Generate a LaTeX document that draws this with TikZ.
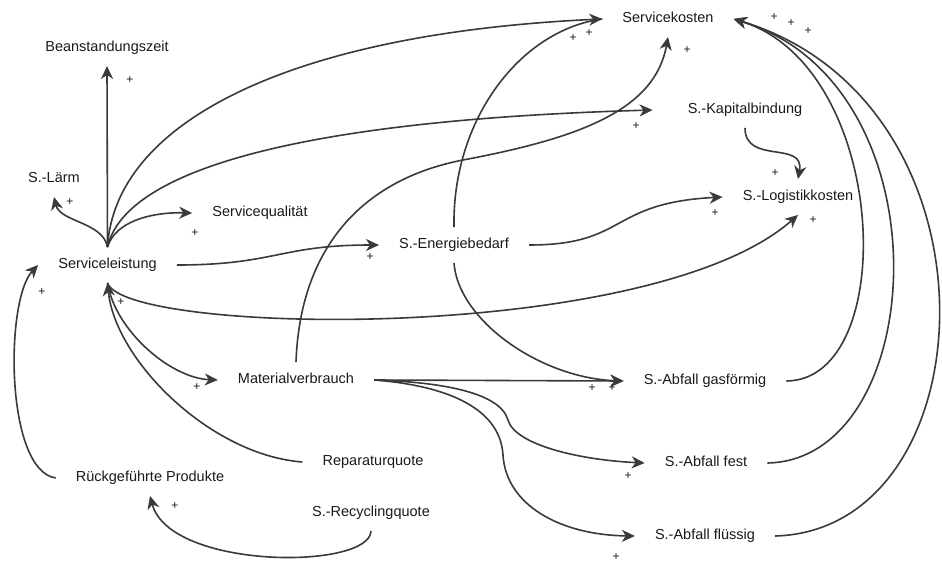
\documentclass[tikz,border=0pt]{standalone}
\usepackage{fontspec}
\setmainfont{Liberation Sans}
\usetikzlibrary{arrows.meta}
\definecolor{ink}{HTML}{1A1A1A}
\definecolor{wire}{HTML}{3A3A3A}
\begin{document}
\begin{tikzpicture}[x=1pt,y=-1pt,
  var/.style={text=ink,font=\fontsize{14.5}{16}\selectfont,
    text height=10.5pt,text depth=3pt,inner xsep=20pt,inner ysep=11pt},
  link/.style={draw=wire,line width=1.6pt,
    -{Stealth[length=13pt,width=12pt,inset=4pt]}},
  plain/.style={draw=wire,line width=1.6pt},
  pol/.style={text=ink,font=\fontsize{12}{12}\selectfont,inner sep=0pt}]
\useasboundingbox[fill=white] (0,0) rectangle (942,565);

% variables
\node[var] (sl)  at (107.5,265) {Serviceleistung};
\node[var] (bz)  at (107,48)    {Beanstandungszeit};
\node[var] (la)  at (54,179)    {S.-Lärm};
\node[var] (sq)  at (260,213)   {Servicequalität};
\node[var] (sk)  at (668,19)    {Servicekosten};
\node[var] (kb)  at (745,110)   {S.-Kapitalbindung};
\node[var] (lk)  at (798,197)   {S.-Logistikkosten};
\node[var] (eb)  at (454,245)   {S.-Energiebedarf};
\node[var] (mv)  at (296,380)   {Materialverbrauch};
\node[var] (ag)  at (705,381)   {S.-Abfall gasförmig};
\node[var] (af)  at (706,463)   {S.-Abfall fest};
\node[var] (afl) at (705,536)   {S.-Abfall flüssig};
\node[var] (rq)  at (373,462)   {Reparaturquote};
\node[var] (rc)  at (371,513)   {S.-Recyclingquote};
\node[var] (rp)  at (150,478)   {Rückgeführte Produkte};

% links leaving Serviceleistung
\draw[link] (sl.north) -- (bz.south);
\draw[link] (sl.north) .. controls (103,222) and (60,222) .. (la.south);
\draw[link] (sl.north) .. controls (115,222) and (150,212) .. (sq.west);
\draw[link] (sl.north) .. controls (115,120) and (295,33) .. (sk.west);
\draw[link] (sl.north) .. controls (125,170) and (300,120) .. ([xshift=-15pt]kb.west);
\draw[link] (sl.east) .. controls (275,265) and (280,245) .. (eb.west);
\draw[link] (sl.south) .. controls (125,335) and (650,345) .. (lk.south);
\draw[link] (sl.south) .. controls (115,330) and (170,378) .. (mv.west);

% Energiebedarf and Kapitalbindung
\draw[plain] (eb.north) .. controls (452,120) and (520,30) .. (sk.west);
\draw[link] (eb.south) .. controls (458,320) and (540,378) .. (ag.west);
\draw[link] (eb.east) .. controls (628,245) and (608,203) .. (lk.west);
\draw[link] (kb.south) .. controls (745,165) and (805,140) .. (lk.north);

% Materialverbrauch
\draw[link] (mv.north) .. controls (300,250) and (360,180) .. (463,160)
  .. controls (580,138) and (655,110) .. (sk.south);
\draw[link] (mv.east) -- (ag.west);
\draw[link] (mv.east) .. controls (440,382) and (500,392) .. (508,420)
  .. controls (515,445) and (580,460) .. (af.west);
\draw[link] (mv.east) .. controls (440,385) and (500,405) .. (503,455)
  .. controls (506,505) and (560,535) .. (afl.west);

% waste streams into Servicekosten
\draw[link] (ag.east) .. controls (900,380) and (890,68) .. (sk.east);
\draw[link] (af.east) .. controls (930,460) and (950,85) .. (sk.east);
\draw[link] (afl.east) .. controls (990,530) and (1010,103) .. (sk.east);

% feedback into Serviceleistung
\draw[link] (rq.west) .. controls (210,455) and (115,360) .. (sl.south);
\draw[link] (rp.west) .. controls (5,470) and (5,300) .. (sl.west);
\draw[link] (rc.south) .. controls (370,570) and (170,570) .. (rp.south);

% polarities
\node[pol] (p1)  at (130,80)  {+};
\node[pol] (p2)  at (70,202)  {+};
\node[pol] (p3)  at (195,233) {+};
\node[pol] (p4)  at (573,38)  {+};
\node[pol] (p5)  at (589,33)  {+};
\node[pol] (p6)  at (687,50)  {+};
\node[pol] (p7)  at (774,17)  {+};
\node[pol] (p8)  at (791,23)  {+};
\node[pol] (p9)  at (808,31)  {+};
\node[pol] (p10) at (636,126) {+};
\node[pol] (p11) at (775,173) {+};
\node[pol] (p12) at (715,213) {+};
\node[pol] (p13) at (813,220) {+};
\node[pol] (p14) at (370,257) {+};
\node[pol] (p15) at (121,302) {+};
\node[pol] (p16) at (42,292)  {+};
\node[pol] (p17) at (197,387) {+};
\node[pol] (p18) at (592,388) {+};
\node[pol] (p19) at (612,388) {+};
\node[pol] (p20) at (628,476) {+};
\node[pol] (p21) at (616,557) {+};
\node[pol] (p22) at (175,506) {+};
\end{tikzpicture}
\end{document}
